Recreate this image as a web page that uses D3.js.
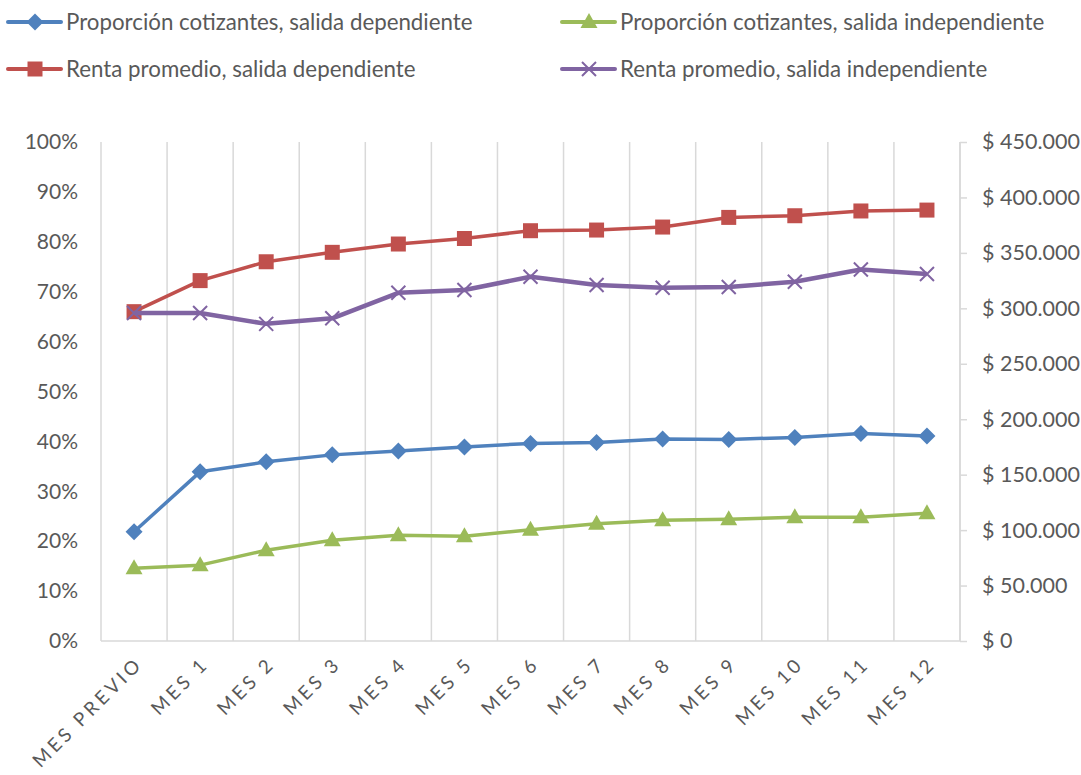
<!DOCTYPE html>
<html>
<head>
<meta charset="utf-8">
<script src="https://cdn.jsdelivr.net/npm/d3@7"></script>
<style>
  html, body { margin: 0; padding: 0; background: #fff; }
</style>
</head>
<body>
<div id="chart"></div>
<script>
// Categories (x axis)
const months = ['MES PREVIO', 'MES 1', 'MES 2', 'MES 3', 'MES 4', 'MES 5', 'MES 6',
                'MES 7', 'MES 8', 'MES 9', 'MES 10', 'MES 11', 'MES 12'];

// Left axis: share of contributors (fraction)
const propDep   = [0.219, 0.339, 0.359, 0.373, 0.381, 0.389, 0.396, 0.398, 0.405, 0.404, 0.408, 0.416, 0.411];
const propIndep = [0.146, 0.152, 0.182, 0.202, 0.212, 0.210, 0.223, 0.235, 0.242, 0.244, 0.248, 0.248, 0.256];

// Right axis: average income (CLP)
const rentaDep   = [297000, 325000, 342000, 350500, 358000, 363000, 370000, 370600, 373300, 382000, 383500, 387800, 388600];
const rentaIndep = [295800, 295800, 286000, 291000, 314000, 316500, 328500, 321000, 318600, 319300, 324000, 335000, 331000];

const leftTicks  = [0, 0.1, 0.2, 0.3, 0.4, 0.5, 0.6, 0.7, 0.8, 0.9, 1.0];
const rightTicks = [0, 50000, 100000, 150000, 200000, 250000, 300000, 350000, 400000, 450000];

const series = [
  { name: 'Proporción cotizantes, salida dependiente',   values: propDep,    axis: 'left',  color: '#4F81BD', marker: 'diamond' },
  { name: 'Proporción cotizantes, salida independiente', values: propIndep,  axis: 'left',  color: '#9BBB59', marker: 'triangle' },
  { name: 'Renta promedio, salida dependiente',          values: rentaDep,   axis: 'right', color: '#C0504D', marker: 'square' },
  { name: 'Renta promedio, salida independiente',        values: rentaIndep, axis: 'right', color: '#8064A2', marker: 'x' }
];

const font = "Lato, 'Open Sans', sans-serif";
const textColor = '#595959';
const gridColor = '#D9D9D9';

const W = 1081, H = 775;
const plot = { left: 101, right: 960, top: 142, bottom: 641 };

const svg = d3.select('#chart').append('svg')
  .attr('width', W).attr('height', H)
  .style('font-family', font);

const x = d3.scaleBand().domain(months).range([plot.left, plot.right]).padding(0);
const yL = d3.scaleLinear().domain([0, 1]).range([plot.bottom, plot.top]);
const yR = d3.scaleLinear().domain([0, 450000]).range([plot.bottom, plot.top]);

// vertical gridlines at category boundaries
const bounds = months.map(m => x(m)).concat([x(months[months.length - 1]) + x.bandwidth()]);
svg.append('g').selectAll('line')
  .data(bounds)
  .join('line')
  .attr('x1', d => d).attr('x2', d => d)
  .attr('y1', plot.top).attr('y2', plot.bottom)
  .attr('stroke', gridColor).attr('stroke-width', 1.5);

// bottom axis line
svg.append('line')
  .attr('x1', plot.left).attr('x2', plot.right)
  .attr('y1', plot.bottom).attr('y2', plot.bottom)
  .attr('stroke', gridColor).attr('stroke-width', 1.5);

// left axis labels
const leftAxis = svg.append('g')
  .attr('transform', `translate(${plot.left},0)`)
  .call(d3.axisLeft(yL).tickValues(leftTicks).tickSize(0).tickPadding(23)
    .tickFormat(d => Math.round(d * 100) + '%'));
leftAxis.select('.domain').remove();
leftAxis.selectAll('text').attr('fill', textColor).attr('font-size', '21px')
  .style('font-family', font);

// right axis
const rightAxis = svg.append('g')
  .attr('transform', `translate(${plot.right},0)`)
  .call(d3.axisRight(yR).tickValues(rightTicks).tickSize(7).tickPadding(15)
    .tickFormat(d => '$ ' + d3.format(',')(d).replace(/,/g, '.')));
rightAxis.select('.domain').attr('stroke', gridColor).attr('stroke-width', 1.5)
  .attr('d', `M0,${plot.top}V${plot.bottom}`);
rightAxis.selectAll('.tick line').attr('stroke', gridColor).attr('stroke-width', 1.5);
rightAxis.selectAll('text').attr('fill', textColor).attr('font-size', '21.5px')
  .style('font-family', font);

// x axis labels, rotated
const xAxis = svg.append('g')
  .attr('transform', `translate(0,${plot.bottom})`)
  .call(d3.axisBottom(x).tickSize(0));
xAxis.select('.domain').remove();
xAxis.selectAll('text')
  .attr('fill', textColor).attr('font-size', '19px')
  .style('font-family', font)
  .style('letter-spacing', '3.5px')
  .attr('text-anchor', 'end')
  .attr('dy', null)
  .attr('y', 0)
  .attr('transform', 'translate(10,24) rotate(-45)');

// markers
function markerPath(type) {
  if (type === 'diamond') return 'M0,-8.5L8.5,0L0,8.5L-8.5,0Z';
  if (type === 'square') return 'M-7.5,-7.5H7.5V7.5H-7.5Z';
  if (type === 'triangle') return 'M0,-9L8.5,6L-8.5,6Z';
  return 'M-7,-7L7,7M-7,7L7,-7';
}

function drawMarker(sel, s) {
  sel.attr('d', markerPath(s.marker));
  if (s.marker === 'x') {
    sel.attr('fill', 'none').attr('stroke', s.color).attr('stroke-width', 2);
  } else {
    sel.attr('fill', s.color).attr('stroke', 'none');
  }
}

const cx = m => x(m) + x.bandwidth() / 2;

// draw in Excel order: dependent share, independent share, then right axis series
series.forEach(s => {
  const y = s.axis === 'left' ? yL : yR;
  const pts = s.values.map((v, i) => ({ m: months[i], v }));
  const line = d3.line().x(d => cx(d.m)).y(d => y(d.v));
  const g = svg.append('g');
  g.append('path')
    .attr('d', line(pts))
    .attr('fill', 'none')
    .attr('stroke', s.color)
    .attr('stroke-width', s.marker === 'x' ? 4.5 : 3.5)
    .attr('stroke-linejoin', 'round');
  g.selectAll('path.mk')
    .data(pts)
    .join('path')
    .attr('class', 'mk')
    .attr('transform', d => `translate(${cx(d.m)},${y(d.v)})`)
    .call(drawMarker, s);
});

// legend
const legendPos = [
  { s: series[0], x: 8,   y: 22 },
  { s: series[1], x: 562, y: 22 },
  { s: series[2], x: 8,   y: 69 },
  { s: series[3], x: 562, y: 69 }
];
const leg = svg.append('g').selectAll('g')
  .data(legendPos)
  .join('g')
  .attr('transform', d => `translate(${d.x},${d.y})`);
leg.append('line')
  .attr('x1', 0).attr('x2', 53).attr('y1', 0).attr('y2', 0)
  .attr('stroke', d => d.s.color).attr('stroke-width', 4)
  .attr('stroke-linecap', 'round');
leg.append('path')
  .attr('transform', 'translate(27,0)')
  .each(function(d) { d3.select(this).call(drawMarker, d.s); });
leg.append('text')
  .attr('x', 58).attr('y', 0).attr('dy', '0.35em')
  .attr('fill', textColor).attr('font-size', '22.3px')
  .text(d => d.s.name);
</script>
</body>
</html>
